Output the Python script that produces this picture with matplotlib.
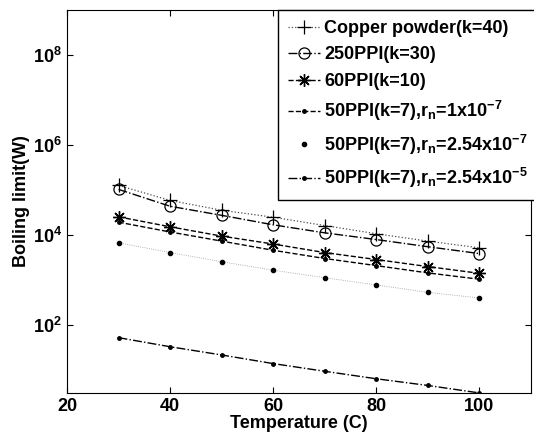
import matplotlib
matplotlib.use("Agg")
import matplotlib.pyplot as plt

plt.rcParams['font.family'] = ['Liberation Sans', 'DejaVu Sans']
plt.rcParams['font.weight'] = 'bold'
plt.rcParams['axes.labelweight'] = 'bold'
plt.rcParams['mathtext.default'] = 'regular'

temperature = [30, 40, 50, 60, 70, 80, 90, 100]

# boiling limit in W, one list per wick
copper_k40 = [1.25e5, 5.8e4, 3.5e4, 2.45e4, 1.6e4, 1.05e4, 7.2e3, 5.1e3]
ppi250_k30 = [1.02e5, 4.3e4, 2.7e4, 1.66e4, 1.1e4, 7.8e3, 5.4e3, 3.8e3]
ppi60_k10 = [2.5e4, 1.5e4, 9.3e3, 6.2e3, 4.0e3, 2.8e3, 1.95e3, 1.38e3]
ppi50_rn1e7 = [1.9e4, 1.15e4, 7.2e3, 4.5e3, 2.95e3, 2.05e3, 1.41e3, 1.02e3]
ppi50_rn254e7 = [6.6e3, 4.0e3, 2.5e3, 1.62e3, 1.1e3, 7.6e2, 5.2e2, 3.9e2]
ppi50_rn254e5 = [51, 32, 21, 13.5, 9.1, 6.2, 4.4, 3.0]

fig = plt.figure(figsize=(5.34, 4.4), dpi=100)
ax = fig.add_axes([0.1255, 0.107, 0.8685, 0.870])

ax.plot(temperature, copper_k40, ':', color='0.3', lw=0.9, marker='+',
        ms=10, mew=0.9, mec='k', label='Copper powder(k=40)')
ax.plot(temperature, ppi250_k30, '-.', color='k', lw=1.0, marker='o',
        ms=8, mfc='none', mew=0.9, label='250PPI(k=30)')
ax.plot(temperature, ppi60_k10, '--', color='k', lw=1.0, marker=(8, 2, 0),
        ms=9, mew=1.0, label='60PPI(k=10)')
ax.plot(temperature, ppi50_rn1e7, '--', color='k', lw=1.0, marker='.',
        ms=5, label=r'50PPI(k=7),r$_{n}$=1x10$^{-7}$')
ax.plot(temperature, ppi50_rn254e7, ':', color='0.6', lw=0.6, label='_nolegend_')
ax.plot(temperature, ppi50_rn254e7, 'k.', ms=6,
        label=r'50PPI(k=7),r$_{n}$=2.54x10$^{-7}$')
ax.plot(temperature, ppi50_rn254e5, '-.', color='k', lw=1.0, marker='.',
        ms=5, label=r'50PPI(k=7),r$_{n}$=2.54x10$^{-5}$')

ax.set_yscale('log')
ax.set_xlim(20, 110)
ax.set_ylim(3, 1e9)
ax.set_xticks([20, 40, 60, 80, 100])
ax.set_yticks([1e2, 1e4, 1e6, 1e8])
ax.minorticks_off()
ax.tick_params(direction='in', top=True, right=True, labelsize=13, length=4)

ax.set_xlabel('Temperature (C)', fontsize=13, labelpad=0)
ax.set_ylabel('Boiling limit(W)', fontsize=13, labelpad=2)

leg = ax.legend(loc='upper left', bbox_to_anchor=(0.455, 1.0),
                borderaxespad=0, fontsize=13,
                fancybox=False, framealpha=1, edgecolor='k',
                handlelength=1.8, handletextpad=0.2, labelspacing=0.52,
                borderpad=0.55)
leg.get_frame().set_linewidth(1.0)

fig.savefig('out.png', dpi=100)
